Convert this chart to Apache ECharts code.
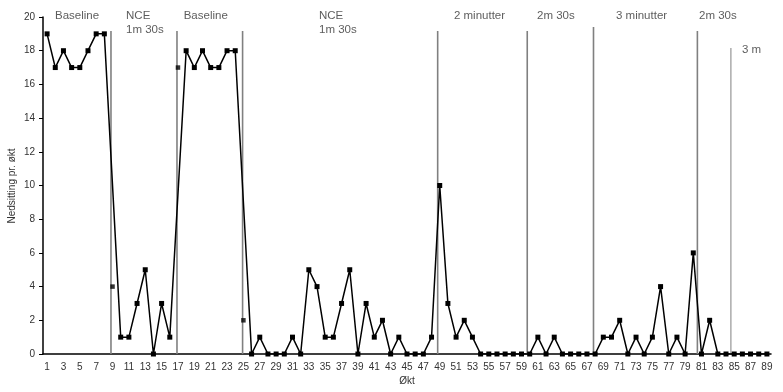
<!DOCTYPE html>
<html>
<head>
<meta charset="utf-8">
<script src="https://cdn.jsdelivr.net/npm/echarts@6/dist/echarts.min.js"></script>
<style>
  html, body { margin: 0; padding: 0; background: #fff; }
  #chart { width: 783px; height: 392px; }
</style>
</head>
<body>
<div id="chart"></div>
<script>
// Sessions 1..89
const sessions = Array.from({ length: 89 }, (_, i) => String(i + 1));

// Main line (null = session plotted as separate point, line bridges over it)
const mainValues = [
  19, 17, 18, 17, 17, 18, 19, 19, null, 1,
  1, 3, 5, 0, 3, 1, null, 18, 17, 18,
  17, 17, 18, 18, null, 0, 1, 0, 0, 0,
  1, 0, 5, 4, 1, 1, 3, 5, 0, 3,
  1, 2, 0, 1, 0, 0, 0, 1, 10, 3,
  1, 2, 1, 0, 0, 0, 0, 0, 0, 0,
  1, 0, 1, 0, 0, 0, 0, 0, 1, 1,
  2, 0, 1, 0, 1, 4, 0, 1, 0, 6,
  0, 2, 0, 0, 0, 0, 0, 0, 0
];

// Stand-alone points at phase changes
const loosePoints = [["9", 4], ["17", 17], ["25", 2]];

// Phase change lines: [session position, top value]
const phaseLines = [
  [8.81, 19.17], [16.88, 19.17], [24.9, 19.17], [48.75, 19.17],
  [59.7, 19.17], [67.8, 19.4], [80.5, 19.17], [84.6, 18.16]
];

// Phase labels: [session position, value, text]
const phaseLabels = [
  [1.97, 20.06, "Baseline"],
  [10.65, 20.06, "NCE"], [10.65, 19.23, "1m 30s"],
  [17.7, 20.06, "Baseline"],
  [34.24, 20.06, "NCE"], [34.24, 19.23, "1m 30s"],
  [50.74, 20.06, "2 minutter"],
  [60.9, 20.06, "2m 30s"],
  [70.55, 20.06, "3 minutter"],
  [80.7, 20.06, "2m 30s"],
  [85.95, 18.04, "3 m"]
];

const FONT = "Liberation Sans";
const chart = echarts.init(document.getElementById("chart"), null, { renderer: "canvas" });

const lineSeries = phaseLines.map((p, i) => ({
  type: "line",
  xAxisIndex: 1,
  data: [[p[0], 0], [p[0], p[1]]],
  symbol: "none",
  silent: true,
  lineStyle: { color: "#808080", width: i === 7 ? 1 : 1.6 },
  z: 1,
}));

chart.setOption({
  animation: false,
  backgroundColor: "#fff",
  textStyle: { fontFamily: FONT },
  grid: { left: 43, right: 12, top: 17, bottom: 38, outerBoundsMode: "none", containLabel: false },
  graphic: [{
    type: "text",
    x: 12,
    y: 186,
    rotation: Math.PI / 2,
    style: {
      text: "Nedsitting pr. økt",
      fill: "#333",
      font: `10px "${FONT}"`,
      textAlign: "center",
      textVerticalAlign: "middle",
    },
  }],
  xAxis: [{
    type: "category",
    data: sessions,
    boundaryGap: true,
    name: "Økt",
    nameLocation: "middle",
    nameGap: 22,
    nameMoveOverlap: false,
    nameTextStyle: { color: "#333", fontSize: 10, fontFamily: FONT },
    axisLine: { lineStyle: { color: "#000", width: 1.5 } },
    axisTick: { interval: 0, length: 4, lineStyle: { color: "#000" } },
    axisLabel: { interval: 1, color: "#333", fontSize: 10, margin: 8, fontFamily: FONT },
    splitLine: { show: false },
  }, {
    type: "value",
    min: 0.5,
    max: 89.5,
    show: false,
  }],
  yAxis: {
    type: "value",
    min: 0,
    max: 20,
    interval: 2,
    axisLine: { show: true, lineStyle: { color: "#000", width: 1.5 } },
    axisTick: { show: true, length: 4, lineStyle: { color: "#000" } },
    axisLabel: { color: "#333", fontSize: 10, margin: 8, fontFamily: FONT },
    splitLine: { show: false },
  },
  series: [
    ...lineSeries,
    {
      type: "line",
      data: mainValues,
      connectNulls: true,
      symbol: "rect",
      symbolSize: 5,
      showAllSymbol: true,
      itemStyle: { color: "#000" },
      lineStyle: { color: "#000", width: 1.5 },
      z: 3,
    },
    {
      type: "scatter",
      data: loosePoints,
      symbol: "rect",
      symbolSize: 4.5,
      itemStyle: { color: "#000" },
      z: 3,
    },
    {
      type: "scatter",
      xAxisIndex: 1,
      data: phaseLabels.map(p => ({ value: [p[0], p[1]], name: p[2] })),
      symbolSize: 0,
      silent: true,
      clip: false,
      label: {
        show: true,
        position: "inside",
        align: "left",
        verticalAlign: "middle",
        formatter: p => p.name,
        color: "#333",
        fontSize: 11.5,
        fontFamily: FONT,
      },
    },
  ],
});
</script>
</body>
</html>
